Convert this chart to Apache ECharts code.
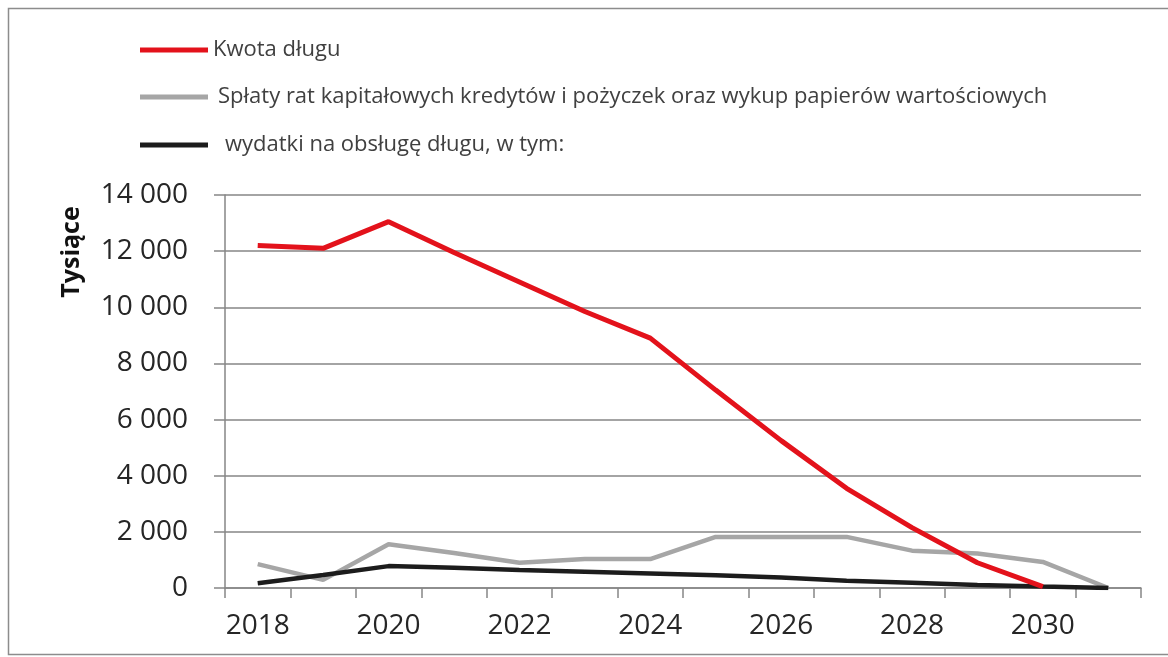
<!DOCTYPE html>
<html>
<head>
<meta charset="utf-8">
<script src="https://cdn.jsdelivr.net/npm/echarts@6/dist/echarts.min.js"></script>
<style>
html,body{margin:0;padding:0;background:#fff;}
#chart{width:1168px;height:657px;}
</style>
</head>
<body>
<div id="chart"></div>
<script>
var years = ['2018','2019','2020','2021','2022','2023','2024','2025','2026','2027','2028','2029','2030','2031'];
var kwotaDlugu = [12200, 12100, 13050, 11950, 10900, 9850, 8900, 7050, 5250, 3550, 2150, 900, 50, null];
var splaty = [850, 290, 1560, 1250, 900, 1030, 1030, 1820, 1820, 1820, 1330, 1230, 930, 0];
var wydatki = [170, 460, 780, 720, 640, 580, 520, 450, 370, 260, 190, 110, 50, 0];
var yTicks = { min: 0, max: 14000, interval: 2000 };

var names = ['Kwota długu', 'Spłaty rat kapitałowych kredytów i pożyczek oraz wykup papierów wartościowych', 'wydatki na obsługę długu, w tym:'];
var colors = ['#e3121b', '#a6a6a6', '#1c1c1c'];

var chart = echarts.init(document.getElementById('chart'));
function legendFor(i, top, padLeft) {
  return {
    data: [{ name: names[i], icon: 'rect' }],
    left: 140, top: top, padding: 0,
    itemWidth: 68, itemHeight: 5,
    selectedMode: false,
    textStyle: { fontFamily: 'Open Sans', fontSize: 22, color: '#404040', padding: [0, 0, 0, padLeft], lineHeight: 24 }
  };
}
chart.setOption({
  animation: false,
  backgroundColor: '#fff',
  graphic: [
    { type: 'rect', shape: { x: 8.5, y: 8.5, width: 1170, height: 646 }, style: { fill: 'none', stroke: '#8c8c8c', lineWidth: 1.5 }, z: -1 },
    { type: 'text', x: 72, y: 252, rotation: Math.PI / 2, style: { text: 'Tysiące', font: 'bold 25px "Open Sans"', fill: '#111', align: 'center', verticalAlign: 'middle' } }
  ],
  legend: [legendFor(0, 38, 0), legendFor(1, 85, 5), legendFor(2, 133, 12)],
  grid: { left: 225, right: 27, top: 195, bottom: 69, containLabel: false },
  xAxis: {
    type: 'category',
    data: years,
    boundaryGap: true,
    axisLine: { lineStyle: { color: '#868686', width: 1.5 } },
    axisTick: { show: true, interval: 0, length: 10, lineStyle: { color: '#868686', width: 1.5 } },
    axisLabel: { interval: 1, margin: 24, fontFamily: 'Open Sans', fontSize: 28, color: '#262626' },
    splitLine: { show: false }
  },
  yAxis: {
    type: 'value',
    min: yTicks.min, max: yTicks.max, interval: yTicks.interval,
    axisLine: { show: true, lineStyle: { color: '#868686', width: 1.5 } },
    axisTick: { show: true, length: 11, lineStyle: { color: '#868686', width: 1.5 } },
    axisLabel: {
      margin: 37, fontFamily: 'Open Sans', fontSize: 28, color: '#262626',
      formatter: function (v) { return String(v).replace(/\B(?=(\d{3})+(?!\d))/g, ' '); }
    },
    splitLine: { show: true, lineStyle: { color: '#868686', width: 1.5 } }
  },
  series: [
    { name: names[0], type: 'line', data: kwotaDlugu, symbol: 'none', z: 5, lineStyle: { color: colors[0], width: 5 }, itemStyle: { color: colors[0] } },
    { name: names[1], type: 'line', data: splaty, symbol: 'none', z: 3, lineStyle: { color: colors[1], width: 4.5 }, itemStyle: { color: colors[1] } },
    { name: names[2], type: 'line', data: wydatki, symbol: 'none', z: 4, lineStyle: { color: colors[2], width: 4.5 }, itemStyle: { color: colors[2] } }
  ]
});
</script>
</body>
</html>
